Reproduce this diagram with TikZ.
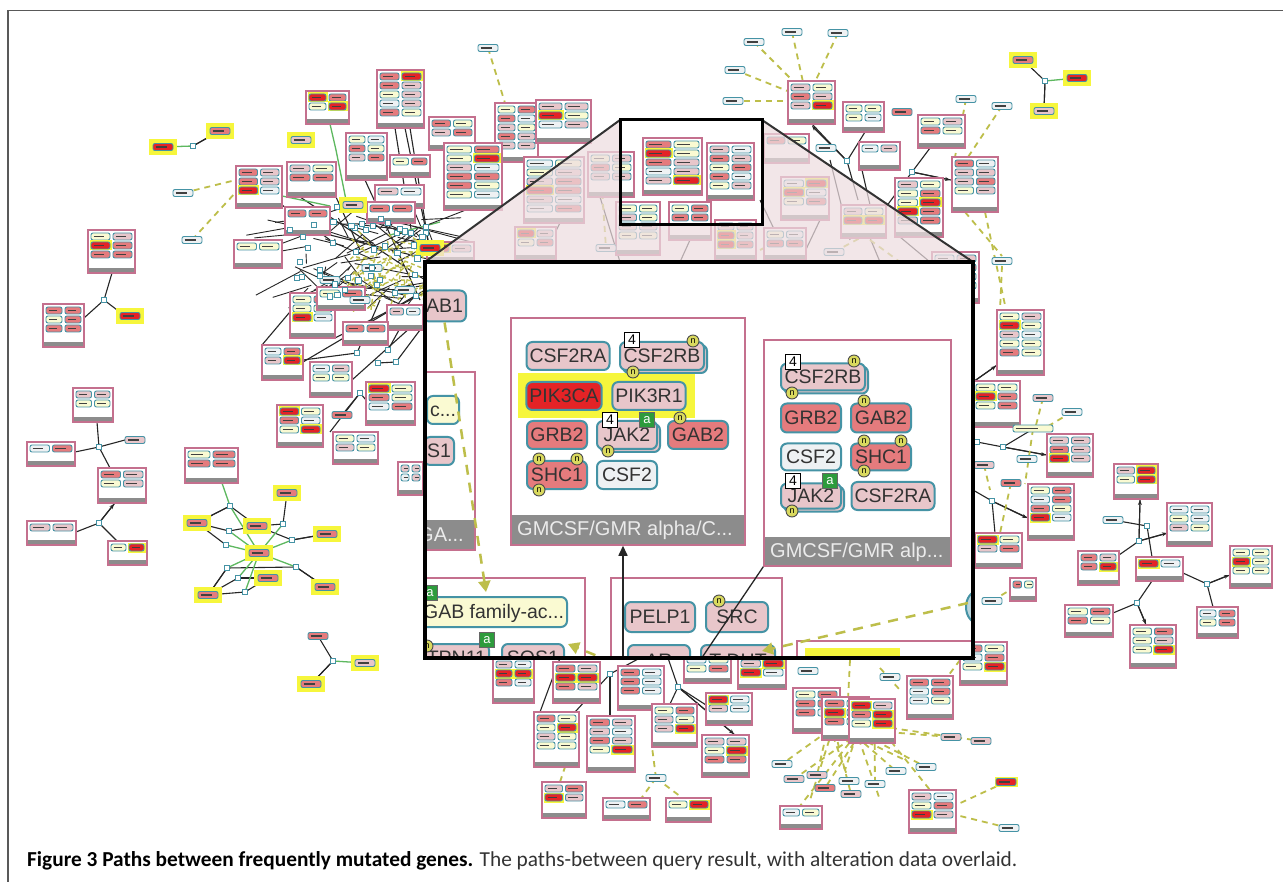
\documentclass[tikz,border=0pt]{standalone}
\usepackage{fontspec}
\usepackage{graphicx}
\setmainfont{Liberation Sans}
\newfontfamily\capfont{Carlito}
\usetikzlibrary{arrows.meta}
\definecolor{bxpink}{HTML}{C4708E}
\definecolor{bandgray}{HTML}{8C8C8C}
\definecolor{tl}{HTML}{4593A5}
\definecolor{pkred}{HTML}{E42326}
\definecolor{pksal}{HTML}{E57B7D}
\definecolor{pkpink}{HTML}{E8C6CA}
\definecolor{pkyel}{HTML}{FAFAD2}
\definecolor{pkwhite}{HTML}{EEF1F3}
\definecolor{hlyel}{HTML}{F6F63C}
\definecolor{olv}{HTML}{BDBE4A}
\definecolor{grn}{HTML}{5DB85F}
\definecolor{grnbox}{HTML}{2D9B3C}
\definecolor{shadec}{HTML}{EDDDE0}
\definecolor{nyel}{HTML}{D9D95E}
\newcommand\pill[4]{%
  \pgfmathsetmacro\myxa{#1}\pgfmathsetmacro\myya{#2}\pgfmathsetmacro\myw{#3}%
  \edef\mypc{#4}\def\mypr{pkred}%
  \ifx\mypc\mypr \fill[hlyel] ({\myxa-1.5},{\myya-1.5}) rectangle ({\myxa+\myw+1.5},{\myya+8.5});\fi
  \filldraw[fill=#4,draw=tl,line width=0.9,rounded corners=2] ({\myxa},{\myya}) rectangle ({\myxa+\myw},{\myya+7});
  \draw[black!75,line width=1.4] ({\myxa+2.5},{\myya+3.5}) -- ({\myxa+2.5+0.55*\myw},{\myya+3.5});}
\newcommand\spl[3]{\pill{#1-10}{#2-3.5}{20}{#3}}
\newcommand\ypl[3]{\fill[hlyel] ({#1-14},{#2-8}) rectangle ({#1+14},{#2+8});\spl{#1}{#2}{#3}}
\newcommand\sqr[2]{\filldraw[fill=white,draw=tl,line width=1] ({#1-2.6},{#2-2.6}) rectangle ({#1+2.6},{#2+2.6});}
\newcommand\bx[4]{%
  \fill[white] ({#1},{#2}) rectangle ({#3},{#4});
  \fill[bandgray] ({#1},{#4-5}) rectangle ({#3},{#4});
  \pgfmathtruncatemacro\mynr{max(1,(#4-#2-12)/9)}%
  \pgfmathsetmacro\mypw{(#3-#1-9)/2}%
  \foreach \r in {1,...,\mynr}{%
    \pgfmathrandomitem\ca{pc}\pgfmathrandomitem\cb{pc}%
    \pill{#1+3}{#2+3+(\r-1)*9}{\mypw}{\ca}%
    \pill{#1+6+\mypw}{#2+3+(\r-1)*9}{\mypw}{\cb}}%
  \draw[bxpink,line width=1.3] ({#1},{#2}) rectangle ({#3},{#4});}
\begin{document}
\begin{tikzpicture}[x=1pt,y=-1pt,
  ed/.style={black!85,line width=1.1},
  eda/.style={black!85,line width=1.1,-{Stealth[length=5pt,width=4pt]}},
  gre/.style={grn,line width=1.3},
  dsh/.style={olv,line width=1.8,dash pattern=on 6pt off 5pt},
  gn/.style={draw=tl,line width=2pt,rounded corners=6pt,inner xsep=3pt,inner ysep=0pt,
    font=\fontsize{19.5}{19.5}\selectfont,text=black!80,text height=13.8pt,text depth=0.3pt,minimum height=28pt},
  boxn/.style={fill=white,draw=bxpink,line width=1.5pt,inner sep=0pt},
  bandlab/.style={font=\fontsize{20}{20}\selectfont,text=white!92!black,inner sep=0pt,anchor=west},
  nmk/.style={circle,fill=nyel,draw=black!70,line width=0.9pt,inner sep=0pt,minimum size=12pt,font=\fontsize{9}{9}\selectfont},
  fourmk/.style={rectangle,fill=white,draw=black,line width=1pt,inner sep=0pt,minimum size=15pt,font=\fontsize{14}{14}\selectfont},
  amk/.style={rectangle,fill=grnbox,draw=black!60,line width=0.8pt,text=white,inner sep=0pt,minimum size=15pt,font=\fontsize{13}{13}\selectfont}]
\useasboundingbox (0,0) rectangle (1283,882);
\fill[white] (0,0) rectangle (1283,882);
\pgfmathsetseed{12}
\pgfmathdeclarerandomlist{pc}{{pkred}{pksal}{pkpink}{pkpink}{pkyel}{pkwhite}{pksal}{pkyel}}
% ---------- background connectors ----------
\foreach \a/\b/\c/\d in {193/146/220/131,104/300/112/273,104/300/84/318,104/300/125/316,99/447/97/422,99/447/75/452,99/447/125/440,99/447/110/468,99/523/76/532,99/523/117/541,99/523/115/503,
 230/506/197/523,230/506/257/526,229/531/197/523,229/531/257/526,226/545/197/523,283/524/257/526,283/524/287/493,292/540/257/526,292/540/327/534,227/568/208/595,238/578/268/578,238/578/208/595,245/592/268/578,245/592/208/595,296/567/325/587,296/567/227/568,
 333/661/318/636,333/661/311/684,1023/60/1045/81,1045/81/1044/111,
 812/124/847/161,847/161/865/132,847/161/858/200,912/172/930/148,912/172/951/180,912/172/880/215,862/170/870/205,
 610/674/640/658,610/674/575/712,610/674/610/716,678/687/668/658,678/687/706/705,678/687/735/735,678/687/670/704,560/658/540/712,
 973/382/997/365,977/442/1003/447,1003/447/1047/455,1003/447/1033/429,973/490/992/501,992/501/1028/518,992/501/995/533,
 1139/541/1140/499,1139/541/1168/533,1139/541/1119/555,1147/526/1113/520,1147/526/1152/557,1207/584/1183/573,1207/584/1230/575,1207/584/1213/607,1137/603/1152/581,1137/603/1113/613,1137/603/1146/625,
 410/128/428/240,395/128/412/235,336/197/360/250,282/205/330/240,262/345/300/300,303/360/357/353,357/353/380/300,378/363/396/362,396/362/420/330,388/350/410/310,360/393/366/400,360/393/342/415,360/393/330/432,
 560/223/540/262,600/197/620/262,690/240/680/262,820/220/800/262,870/238/880/262,760/200/790/262,830/160/850/240,900/237/930/262,
 405/128/440/300,365/180/420/300,300/197/425/280,330/235/440/262,303/362/425/290,335/338/430/290,352/380/430/310}
 {\draw[ed] (\a,\b) -- (\c,\d);}
\foreach \a/\b/\c/\d in {847/161/812/126,912/172/950/180,1003/447/1046/455,992/501/1027/518,1139/541/1140/500,1139/541/1167/533,1207/584/1229/575,1137/603/1146/624,973/382/996/366,678/687/734/734,227/568/209/594,296/567/324/586,292/540/326/534,230/506/198/522,333/661/312/683,1045/81/1044/109,193/146/219/131,99/523/114/504}
 {\draw[eda] (\a,\b) -- (\c,\d);}
\foreach \a/\b/\c/\d in {163/147/193/146,1045/81/1077/78,222/483/230/506,230/506/259/553,229/531/259/553,226/545/259/553,259/553/283/524,259/553/292/540,259/553/296/567,259/553/238/578,259/553/227/568,259/553/245/592,333/661/365/663,330/124/336/150,336/150/347/205,282/196/330/206,390/235/440/222}
 {\draw[gre] (\a,\b) -- (\c,\d);}
\foreach \a/\b/\c/\d in {183/193/236/180,192/240/236/192,488/48/505/103,754/42/800/88,792/32/803/82,838/33/815/82,735/70/790/92,733/101/788/101,966/99/955/157,1002/106/968/157,965/212/1002/256,985/212/1005/305,1002/266/1000/310,1043/398/1035/429,1072/412/1045/428,1033/429/1025/484,1011/483/1000/533,984/465/990/490,992/601/1010/590,
 656/778/640/800,656/778/685/800,656/778/652/747,560/782/565/767,600/160/606/248,760/250/800/230,834/252/860/238,870/240/900/262,1006/782/956/805,1009/828/956/815,850/660/848/700,880/668/900/690,930/700/960/660}
 {\draw[dsh] (\a,\b) -- (\c,\d);}
\foreach \x/\y in {782/764,794/779,817/775,825/788,849/781,851/794,875/784,896/771,926/767,951/737,981/741,800/806,930/790,810/800,880/800,905/760,845/770}
 {\pgfmathsetmacro\xa{825+rnd*60}\pgfmathsetmacro\ya{705+rnd*30}\draw[dsh] (\xa,\ya) -- (\x,\y);}
% hub
\foreach \i in {1,...,85}{%
 \pgfmathsetmacro\xa{295+rnd*140}\pgfmathsetmacro\ya{215+rnd*85}%
 \pgfmathsetmacro\xb{\xa+(rnd-0.5)*130}\pgfmathsetmacro\yb{\ya+(rnd-0.5)*50}%
 \draw[ed,line width=0.9] (\xa,\ya) -- (\xb,\yb);}
\foreach \i in {1,...,70}{%
 \pgfmathsetmacro\xa{345+rnd*85}\pgfmathsetmacro\ya{245+rnd*55}%
 \pgfmathsetmacro\an{rnd*360}%
 \draw[olv,line width=1.4,dash pattern=on 4pt off 3pt] (\xa,\ya) -- ++(\an:18);}
% ---------- background boxes ----------
\foreach \a/\b/\c/\d in {306/91/349/124,377/70/424/128,429/117/475/150,346/133/387/180,390/155/430/177,287/162/336/197,236/166/282/208,375/185/424/208,367/202/415/223,285/207/330/235,234/240/282/268,495/103/538/162,536/100/591/143,444/143/502/210,88/230/135/273,43/304/84/347,290/293/335/338,317/287/365/310,387/305/423/330,343/322/388/345,262/345/303/380,310/362/352/397,366/382/415/425,277/405/323/447,333/432/378/464,398/462/423/495,73/388/113/422,27/442/75/466,98/468/146/503,27/521/76/545,108/541/147/565,185/448/238/483,
524/157/584/223,588/152/634/197,643/138/702/195,707/143/754/200,616/202/660/255,669/202/711/240,715/220/756/260,764/134/809/163,788/81/835/124,843/102/884/132,859/142/900/170,918/115/965/148,952/157/998/212,781/177/829/220,841/205/886/238,895/178/943/237,515/227/556/260,427/242/474/262,764/228/806/260,932/252/979/303,
997/310/1044/375,973/381/1020/427,1047/434/1093/477,1028/484/1074/540,975/533/1022/568,1010/578/1036/601,1114/464/1158/499,1167/503/1212/546,1078/551/1119/585,1136/557/1183/581,1230/546/1272/588,1197/607/1238/638,1065/605/1113/637,1130/625/1176/668,960/642/1007/685,
493/658/534/703,553/662/600/703,618/666/664/710,684/653/731/683,738/648/786/689,706/693/752/725,652/704/697/747,534/712/579/767,587/716/635/772,702/735/749/777,542/782/586/818,603/798/650/820,666/798/711/822,793/688/840/733,822/697/869/740,849/699/895/743,907/676/953/719,780/806/822/829,909/790/956/833}
 {\bx{\a}{\b}{\c}{\d}}
\foreach \x/\y/\c in {183/193/pkwhite,192/240/pkwhite,342/415/pksal,135/440/pkpink,488/48/pkwhite,754/42/pkwhite,792/32/pkwhite,838/33/pkwhite,735/70/pkwhite,733/101/pkwhite,826/148/pkwhite,902/112/pksal,966/99/pkwhite,1002/106/pkwhite,1002/261/pkwhite,1043/398/pkpink,1072/412/pkwhite,1027/459/pkwhite,984/465/pkpink,1011/483/pksal,992/601/pkwhite,1113/520/pkwhite,808/671/pkwhite,890/677/pkwhite,782/764/pkwhite,794/779/pkpink,817/775/pkpink,825/788/pksal,849/781/pkwhite,851/794/pkpink,875/784/pkwhite,896/771/pkwhite,926/767/pkwhite,951/737/pkpink,981/741/pkpink,1006/782/pkred,1009/828/pkwhite,656/778/pkwhite,606/248/pkwhite,834/252/pkwhite,318/636/pksal,330/280/pkwhite,372/268/pkwhite,405/290/pkwhite,360/300/pkwhite}
 {\spl{\x}{\y}{\c}}
\pill{1013}{425}{40}{pkyel}
\foreach \x/\y/\c in {301/140/pkpink,130/316/pkred,163/147/pkred,220/131/pksal,1023/60/pksal,1077/78/pkred,1044/111/pkpink,365/663/pkpink,311/684/pksal,197/523/pksal,257/526/pksal,287/493/pksal,327/534/pksal,259/553/pksal,268/578/pksal,208/595/pksal,325/587/pksal,430/248/pkred,353/205/pkpink}
 {\ypl{\x}{\y}{\c}}
\foreach \x/\y in {193/146,104/300,99/447,99/523,230/506,283/524,229/531,292/540,226/545,227/568,296/567,238/578,245/592,333/661,1045/81,847/161,912/172,1003/447,977/442,992/501,1147/526,1139/541,1207/584,1137/603,610/674,678/687,333/243,300/262,302/277,308/248,397/233,411/233,426/233,355/228,366/230,337/207,357/353,378/363,396/362,388/350,360/393,320/270,345/290,380/280,415/275,290/230}
 {\sqr{\x}{\y}}
\foreach \i in {1,...,30}{\pgfmathsetmacro\xa{295+rnd*135}\pgfmathsetmacro\ya{218+rnd*80}\sqr{\xa}{\ya}}
% ---------- zoom trapezoid ----------
\fill[shadec,opacity=0.72,even odd rule] (425,262) -- (620,120) -- (762,120) -- (973,262) -- cycle (620,120) rectangle (762,225);
\draw[black!80,line width=2] (620,120) -- (425,262);
\draw[black!80,line width=2] (762,120) -- (973,262);
\draw[black,line width=3] (620,120) rectangle (762,225);
% ---------- inset ----------
\fill[white] (425,262) rectangle (973,658);
\begin{scope}
\clip (425,262) rectangle (973,658);
% left partial box
\draw[bxpink,line width=1.5] (400,372) rectangle (475,550);
\fill[bandgray] (400,520) rectangle (474.25,549.25);
\node[bandlab] (labga) at (418,535) {GA...};
\node[gn,fill=pkyel,anchor=east] (cdots) at (460,410) {c...};
\node[gn,fill=pkpink,anchor=east] (sone) at (455,451) {S1};
\node[gn,fill=pkpink,anchor=east,minimum height=31pt] (ab1) at (467,306) {AB1};
% bottom-left box
\draw[bxpink,line width=1.5] (400,578) rectangle (585,700);
\node[gn,fill=pkyel,anchor=east,minimum height=30pt] (gabfam) at (568,612) {GAB family-ac...};
\node[gn,fill=pkpink,anchor=east] (ptpn) at (490,658) {PTPN11};
\node[gn,fill=pkpink,minimum width=62pt] (sos1) at (533,658) {SOS1};
\node[amk] (ma1) at (430,593) {a};
\node[amk] (ma2) at (487,640) {a};
\node[nmk] (mn0) at (427,646) {n};
% bottom-middle box
\draw[bxpink,line width=1.5] (611,578) rectangle (782,700);
\node[gn,fill=pkpink,minimum width=70pt,minimum height=30pt] (pelp) at (660,617) {PELP1};
\node[gn,fill=pkpink,minimum width=62pt,minimum height=30pt] (src) at (737,617) {SRC};
\node[nmk] (mn1) at (719,601) {n};
\node[gn,fill=pkpink,minimum width=62pt,minimum height=32pt] (ar) at (659,661) {AR};
\node[gn,fill=pkpink,minimum width=74pt,minimum height=32pt] (tdht) at (738,661) {T-DHT};
% bottom-right box
\draw[bxpink,line width=1.5] (797,641) rectangle (995,700);
\fill[hlyel] (805,648) rectangle (900,668);
\draw[tl,line width=2,fill=pkwhite!70!tl] (978,607) ellipse (12 and 16);
% box 1
\node[boxn,minimum width=234pt,minimum height=227pt] (box1) at (628,431.5) {};
\fill[bandgray] (511.75,515) rectangle (744.25,544.25);
\node[bandlab] (lab1) at (517,530) {GMCSF/GMR alpha/C...};
\fill[hlyel] (518,373) rectangle (695,418);
\node[gn,fill=pkpink,minimum width=83pt] (csfra1) at (568,356) {CSF2RA};
\node[gn,fill=pkpink,minimum width=84pt] (csfrb1s) at (665,359) {\phantom{CSF2RB}};
\node[gn,fill=pkpink,minimum width=84pt] (csfrb1) at (662,356) {CSF2RB};
\node[gn,fill=pkred,minimum width=75pt] (pik3ca) at (564,396) {PIK3CA};
\node[gn,fill=pkpink,minimum width=73pt] (pik3r1) at (649,396) {PIK3R1};
\node[gn,fill=pksal,minimum width=60pt] (grb2a) at (557,435) {GRB2};
\node[gn,fill=pkpink,minimum width=60pt] (jak2as) at (630,438) {\phantom{JAK2}};
\node[gn,fill=pkpink,minimum width=60pt] (jak2a) at (627,435) {JAK2};
\node[gn,fill=pksal,minimum width=60pt] (gab2a) at (698,435) {GAB2};
\node[gn,fill=pksal,minimum width=60pt] (shc1a) at (557,475) {SHC1};
\node[gn,fill=pkwhite,minimum width=60pt] (csf2a) at (627,475) {CSF2};
\node[fourmk] (f1) at (632,340) {4};
\node[fourmk] (f2) at (610,420) {4};
\node[amk] (a1) at (647,420) {a};
\node[nmk] (n1) at (693,341) {n};
\node[nmk] (n2) at (633,372) {n};
\node[nmk] (n3) at (680,418) {n};
\node[nmk] (n4) at (608,451) {n};
\node[nmk] (n5) at (539,459) {n};
\node[nmk] (n6) at (577,459) {n};
\node[nmk] (n7) at (539,490) {n};
% box 2
\node[boxn,minimum width=187pt,minimum height=226pt] (box2) at (857.5,453) {};
\fill[bandgray] (764.75,537) rectangle (950.25,565.25);
\node[bandlab] (lab2) at (770,552) {GMCSF/GMR alp...};
\node[gn,fill=pkpink,minimum width=84pt,minimum height=27pt] (csfrb2s) at (826,380) {\phantom{CSF2RB}};
\node[gn,fill=pkpink,minimum width=84pt,minimum height=27pt] (csfrb2) at (823,377) {CSF2RB};
\node[gn,fill=pksal,minimum width=60pt,minimum height=29pt] (grb2b) at (811,418) {GRB2};
\node[gn,fill=pksal,minimum width=60pt,minimum height=29pt] (gab2b) at (881,418) {GAB2};
\node[gn,fill=pkwhite,minimum width=60pt,minimum height=27pt] (csf2b) at (811,457) {CSF2};
\node[gn,fill=pksal,minimum width=60pt,minimum height=27pt] (shc1b) at (881,457) {SHC1};
\node[gn,fill=pkpink,minimum width=60pt,minimum height=25pt] (jak2bs) at (814,499) {\phantom{JAK2}};
\node[gn,fill=pkpink,minimum width=60pt,minimum height=25pt] (jak2b) at (811,496) {JAK2};
\node[gn,fill=pkpink,minimum width=83pt,minimum height=28pt] (csfra2) at (893,496) {CSF2RA};
\node[fourmk] (f3) at (793,362) {4};
\node[fourmk] (f4) at (793,481) {4};
\node[amk] (a2) at (830,481) {a};
\node[nmk] (n8) at (854,361) {n};
\node[nmk] (n9) at (792,393) {n};
\node[nmk] (n10) at (864,401) {n};
\node[nmk] (n11) at (864,441) {n};
\node[nmk] (n12) at (901,441) {n};
\node[nmk] (n13) at (864,471) {n};
\node[nmk] (n14) at (792,511) {n};
% inset connectors
\coordinate (c1) at (623,662);
\draw[black!85,line width=1.6,-{Triangle[length=10pt,width=9pt]}] (c1) -- (c1 |- box1.south);
\coordinate (c2) at (699,662);
\draw[black!85,line width=1.3] (c2) -- (box2.south west);
\coordinate (d1e) at (486,592);
\draw[dsh,line width=2.5,dash pattern=on 10pt off 8pt,-{Triangle[length=11pt,width=12pt]}] (ab1.south) -- (d1e);
\coordinate (d2s) at (968,603);
\coordinate (d2e) at (762,651);
\draw[dsh,line width=2.5,dash pattern=on 10pt off 8pt,-{Triangle[length=11pt,width=12pt]}] (d2s) -- (d2e);
\coordinate (d3s) at (612,662);
\coordinate (d3e) at (568,644);
\draw[dsh,line width=2.5,dash pattern=on 10pt off 8pt,-{Triangle[length=11pt,width=12pt]}] (d3s) -- (d3e);
\end{scope}
\draw[black,line width=3.5] (425,262) rectangle (973,658);
% ---------- frame and caption ----------
\draw[black!65,line width=1.5] (8,882) -- (8,10.5) -- (1283,10.5);
\node[anchor=base west,inner sep=0pt] (cap) at (27,866) {\resizebox{990pt}{!}{\capfont\fontsize{18}{18}\selectfont\textbf{Figure 3 Paths between frequently mutated genes.} \textcolor{black!80}{The paths-between query result, with alteration data overlaid.}}};
\end{tikzpicture}
\end{document}
